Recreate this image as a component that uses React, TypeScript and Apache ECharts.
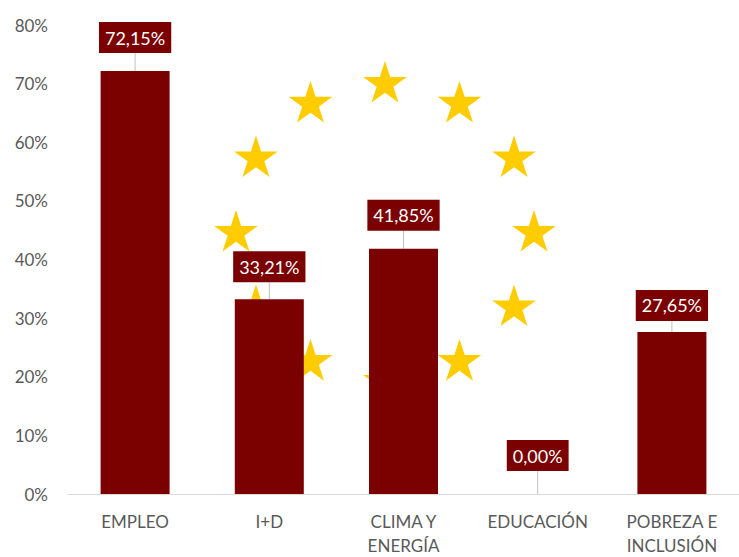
import React, { useEffect, useRef } from "react";
import * as echarts from "echarts";

const categories = ["EMPLEO", "I+D", "CLIMA Y\nENERGÍA", "EDUCACIÓN", "POBREZA E\nINCLUSIÓN"];
const values = [72.15, 33.21, 41.85, 0.0, 27.65];
const yTicks = { min: 0, max: 80, interval: 10 };
// label lift above each bar (style only)
const labelLift = [18, 17, 18, 23, 11];

const BAR = "#7B0000";
const STAR = "#FFCC00";

function starPoints(R: number): number[][] {
  const pts: number[][] = [];
  const r = R * 0.382;
  for (let i = 0; i < 10; i++) {
    const a = (-90 + i * 36) * (Math.PI / 180);
    const rad = i % 2 === 0 ? R : r;
    pts.push([Math.cos(a) * rad, Math.sin(a) * rad]);
  }
  return pts;
}

function buildStars() {
  const cx = 385, cy = 233, rc = 149, R = 23;
  const pts = starPoints(R);
  const els: any[] = [];
  for (let k = 0; k < 12; k++) {
    const a = (k * 30 * Math.PI) / 180;
    els.push({
      type: "polygon",
      x: cx + rc * Math.sin(a),
      y: cy - rc * Math.cos(a),
      shape: { points: pts },
      style: { fill: STAR },
      silent: true,
      z: 0,
    });
  }
  return els;
}

export default function App() {
  const ref = useRef<HTMLDivElement>(null);
  useEffect(() => {
    if (!ref.current) return;
    const chart = echarts.init(ref.current, null, { renderer: "svg" });
    chart.setOption({
      animation: false,
      backgroundColor: "#ffffff",
      textStyle: { fontFamily: "Lato" },
      graphic: { elements: buildStars() },
      grid: { left: 68, top: 25, width: 682, height: 471, containLabel: false },
      xAxis: {
        type: "category",
        data: categories,
        axisLine: { show: true, lineStyle: { color: "#D9D9D9", width: 1 } },
        axisTick: { show: false },
        axisLabel: {
          color: "#595959",
          fontSize: 17,
          lineHeight: 24,
          margin: 15,
          fontFamily: "Lato",
          interval: 0,
        },
      },
      yAxis: {
        type: "value",
        min: yTicks.min,
        max: yTicks.max,
        interval: yTicks.interval,
        axisLine: { show: false },
        axisTick: { show: false },
        splitLine: { show: false },
        axisLabel: {
          color: "#595959",
          fontSize: 17,
          margin: 20,
          fontFamily: "Lato",
          formatter: "{value}%",
        },
      },
      series: [
        {
          type: "bar",
          data: values,
          barWidth: 69,
          z: 2,
          itemStyle: { color: BAR },
          label: {
            show: true,
            position: "top",
            distance: 0,
            color: "#ffffff",
            fontSize: 18,
            fontFamily: "Lato",
            lineHeight: 21,
            backgroundColor: BAR,
            padding: [5, 6, 5, 6],
            formatter: (p: any) => p.value.toFixed(2).replace(".", ",") + "%",
          },
          labelLayout: (p: any) => ({ dy: -labelLift[p.dataIndex] }),
          labelLine: {
            show: true,
            lineStyle: { color: "#BFBFBF", width: 1 },
          },
        },
      ],
    });
    return () => chart.dispose();
  }, []);
  return (
    <div
      ref={ref}
      style={{ position: "fixed", left: 0, top: 0, width: 739, height: 557 }}
    />
  );
}
